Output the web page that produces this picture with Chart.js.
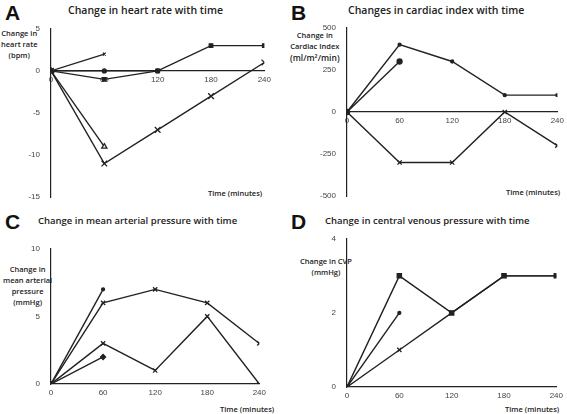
<!DOCTYPE html>
<html><head><meta charset="utf-8">
<script src="https://cdn.jsdelivr.net/npm/chart.js@4"></script>
<style>
body{margin:0;background:#fff;font-family:"Open Sans",sans-serif;}
#wrap{position:relative;width:567px;height:414px;overflow:hidden}
.box{position:absolute}
.t{position:absolute;font-size:10.5px;font-weight:600;color:#222;white-space:nowrap}
.L{position:absolute;font-size:21px;font-weight:bold;font-family:Arial,"Liberation Sans",sans-serif;color:#111}
.yl{position:absolute;font-size:7.5px;font-weight:600;color:#222;text-align:center;line-height:11px}
.xl{position:absolute;font-size:7.5px;font-weight:600;color:#222}
</style></head><body>
<div id="wrap">
<div class="L" style="left:5px;top:1px">A</div>
<div class="t" style="left:68px;top:3px">Change in heart rate with time</div>
<div class="yl" style="left:1px;top:28px">Change in<br>heart rate<br>(bpm)</div>
<div class="xl" style="left:208px;top:188px">Time (minutes)</div>
<div class="box" style="left:21px;top:21px;width:254px;height:184px"><canvas id="cA"></canvas></div>

<div class="L" style="left:291px;top:1px">B</div>
<div class="t" style="left:348px;top:3px">Changes in cardiac index with time</div>
<div class="yl" style="left:290px;top:30px">Change in<br>Cardiac Index<br><span style="font-size:8.5px">(ml/m²/min)</span></div>
<div class="xl" style="left:506px;top:187px">Time (minutes)</div>
<div class="box" style="left:317px;top:20px;width:251px;height:184px"><canvas id="cB"></canvas></div>

<div class="L" style="left:5px;top:210px">C</div>
<div class="t" style="left:38px;top:214px;font-size:9.5px">Change in mean arterial pressure with time</div>
<div class="yl" style="left:3px;top:264px">Change in<br>mean arterial<br>pressure<br>(mmHg)</div>
<div class="xl" style="left:220px;top:404px">Time (minutes)</div>
<div class="box" style="left:21px;top:241px;width:249px;height:163px"><canvas id="cC"></canvas></div>

<div class="L" style="left:291px;top:210px">D</div>
<div class="t" style="left:325px;top:214px;font-size:9.5px">Change in central venous pressure with time</div>
<div class="yl" style="left:300px;top:256px">Change in CVP<br>(mmHg)</div>
<div class="xl" style="left:505px;top:404px">Time (minutes)</div>
<div class="box" style="left:317px;top:231px;width:250px;height:176px"><canvas id="cD"></canvas></div>
</div>
<script>
const times = [0, 60, 120, 180, 240];

// A: heart rate (bpm)
const hrA1 = [0, 2];
const hrA2 = [0, -1, 0, 3, 3];
const hrA3 = [0, 0, 0];
const hrA4 = [0, -9];
const hrA5 = [0, -11, -7, -3, 1];

// B: cardiac index (ml/m2/min)
const ciB1 = [0, 400, 300, 100, 100];
const ciB2 = [0, 300];
const ciB3 = [0, -300, -300, 0, -200];

// C: mean arterial pressure (mmHg)
const mapC1 = [0, 7];
const mapC2 = [0, 6, 7, 6, 3];
const mapC3 = [0, 3, 1, 5, 0];
const mapC4 = [0, 2];

// D: central venous pressure (mmHg)
const cvpD1 = [0, 3, 2, 3, 3];
const cvpD2 = [0, 2];
const cvpD3 = [0, 1, 2, 3, 3];

function ds(vals, style, r, fill) {
  return {
    data: vals.map((v, i) => ({x: times[i], y: v})),
    borderColor: '#222', backgroundColor: fill ? '#222' : '#fff', borderWidth: 1.4,
    pointStyle: style, pointRadius: r, pointBorderWidth: 1.3, pointBorderColor: '#222',
    tension: 0
  };
}

function makeChart(id, sets, ymin, ymax, ystep, bottomPad) {
  new Chart(document.getElementById(id), {
    type: 'line',
    data: {datasets: sets},
    options: {
      animation: false, responsive: true, maintainAspectRatio: false,
      layout: {padding: {top: 6, right: 8, bottom: bottomPad}},
      plugins: {legend: {display: false}, tooltip: {enabled: false}},
      scales: {
        x: {
          type: 'linear', min: 0, max: 240, position: {y: 0},
          ticks: {stepSize: 60, color: '#444', font: {size: 8}, padding: 4},
          grid: {display: false, drawTicks: false},
          border: {color: '#222', width: 1.2}
        },
        y: {
          min: ymin, max: ymax,
          afterFit: s => { s.width = 30; },
          ticks: {stepSize: ystep, color: '#444', font: {size: 8}},
          grid: {display: false},
          border: {color: '#222', width: 1.2}
        }
      }
    }
  });
}

makeChart('cA', [ds(hrA1, 'crossRot', 2), ds(hrA2, 'rect', 2.5, true), ds(hrA3, 'circle', 2, true), ds(hrA4, 'triangle', 3), ds(hrA5, 'crossRot', 4)], -15, 5, 5, 6);
makeChart('cB', [ds(ciB1, 'circle', 1.5, true), ds(ciB2, 'circle', 2.5, true), ds(ciB3, 'crossRot', 3)], -500, 500, 250, 6);
makeChart('cC', [ds(mapC1, 'circle', 1.5, true), ds(mapC2, 'crossRot', 3), ds(mapC3, 'crossRot', 3), ds(mapC4, 'rectRot', 2.5, true)], 0, 10, 5, 20);
makeChart('cD', [ds(cvpD1, 'rect', 3, true), ds(cvpD2, 'circle', 1.5, true), ds(cvpD3, 'crossRot', 3)], 0, 4, 2, 20);
</script>
</body></html>
